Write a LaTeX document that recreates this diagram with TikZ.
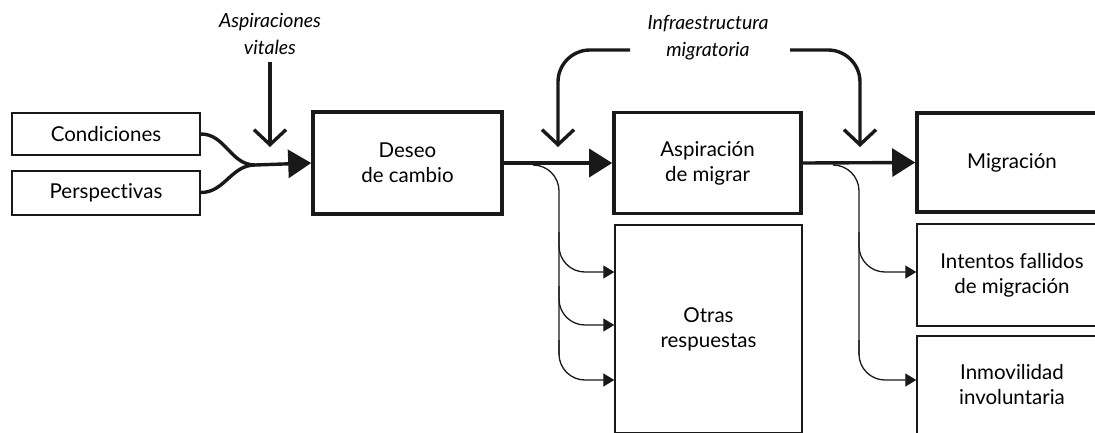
\documentclass[tikz,border=0pt]{standalone}
\usepackage{fontspec}
\setmainfont{Lato}[Ligatures=NoCommon]
\usetikzlibrary{arrows.meta}
\begin{document}
\begin{tikzpicture}[x=1pt,y=-1pt,
  thickbox/.style={draw=black!90,line width=3.6pt,minimum width=#1,align=center,inner sep=0pt,font=\fontsize{20.5}{25}\selectfont},
  thinbox/.style={draw=black!90,line width=1.4pt,align=center,inner sep=0pt,font=\fontsize{20.5}{25}\selectfont},
  lbl/.style={align=center,inner sep=0pt,font=\fontsize{19.5}{27}\selectfont\itshape},
  mainline/.style={line width=3.4pt,draw=black!90},
  bigarrow/.style={mainline,-{Triangle[length=23pt,width=28pt]}},
  barb/.style={line width=3.4pt,draw=black!90,-{Straight Barb[length=15pt,width=32pt,line width=3.4pt]}},
  branch/.style={line width=1.3pt,draw=black!90,rounded corners=26pt},
  smallarrow/.style={branch,-{Triangle[length=11pt,width=13pt]}}
]
\useasboundingbox (0,0) rectangle (1095,432);
\clip (0,0) rectangle (1095,432);

% nodes
\node[thinbox,line width=2pt,minimum width=188pt,minimum height=42pt] (cond) at (106,134) {Condiciones};
\node[thinbox,line width=2pt,minimum width=188pt,minimum height=44pt] (pers) at (106,192.5) {Perspectivas};
\node[thickbox=189pt,minimum height=102pt] (deseo) at (407.5,163) {Deseo\\de cambio};
\node[thickbox=187pt,minimum height=101pt] (aspi) at (707.5,163) {Aspiración\\de migrar};
\node[thickbox=190pt,minimum height=99pt] (migr) at (1012,162.5) {Migración};
\node[thinbox,minimum width=187pt,minimum height=208pt] (otras) at (708.5,329) {Otras\\respuestas};
\node[thinbox,minimum width=190pt,minimum height=102pt] (inten) at (1012,275) {Intentos fallidos\\de migración};
\node[thinbox,minimum width=190pt,minimum height=98pt] (inmov) at (1012,385) {Inmovilidad\\involuntaria};

\node[lbl] (aspv) at (270,34) {Aspiraciones\\vitales};
\node[lbl] (infra) at (708,38) {Infraestructura\\migratoria};

% coordinates
\coordinate (m1) at (255,165);
\coordinate (av1) at (270,62);
\coordinate (av2) at (270,147);
\coordinate (iL1) at (630,50);
\coordinate (iL2) at (558,147);
\coordinate (iR1) at (790,50);
\coordinate (iR2) at (860,147);
\coordinate (b1) at (533,165);
\coordinate (b1end) at (559,355);
\coordinate (b2) at (835,165);
\coordinate (b2end) at (859,355);

% merge
\draw[mainline] (cond.east) to[out=0,in=180] (m1);
\draw[mainline] (pers.east) to[out=0,in=180] (m1);
\draw[bigarrow] (m1) -- (deseo.west);
\draw[barb] (av1) -- (av2);

\draw[bigarrow] (deseo.east) -- (aspi.west);
\draw[bigarrow] (aspi.east) -- (migr.west);

% infraestructura
\draw[barb,rounded corners=32pt] (iL1) -| (iL2);
\draw[barb,rounded corners=32pt] (iR1) -| (iR2);

% branches left
\draw[branch] (b1) -| (b1end);
\draw[smallarrow] (559,232) |- (otras.west |- 0,272);
\draw[smallarrow] (559,286) |- (otras.west |- 0,325);
\draw[smallarrow] (559,340) |- (otras.west |- 0,380);

% branches right
\draw[branch] (b2) -| (b2end);
\draw[smallarrow] (859,232) |- (inten.west |- 0,272);
\draw[smallarrow] (859,340) |- (inmov.west |- 0,380);
\end{tikzpicture}
\end{document}
